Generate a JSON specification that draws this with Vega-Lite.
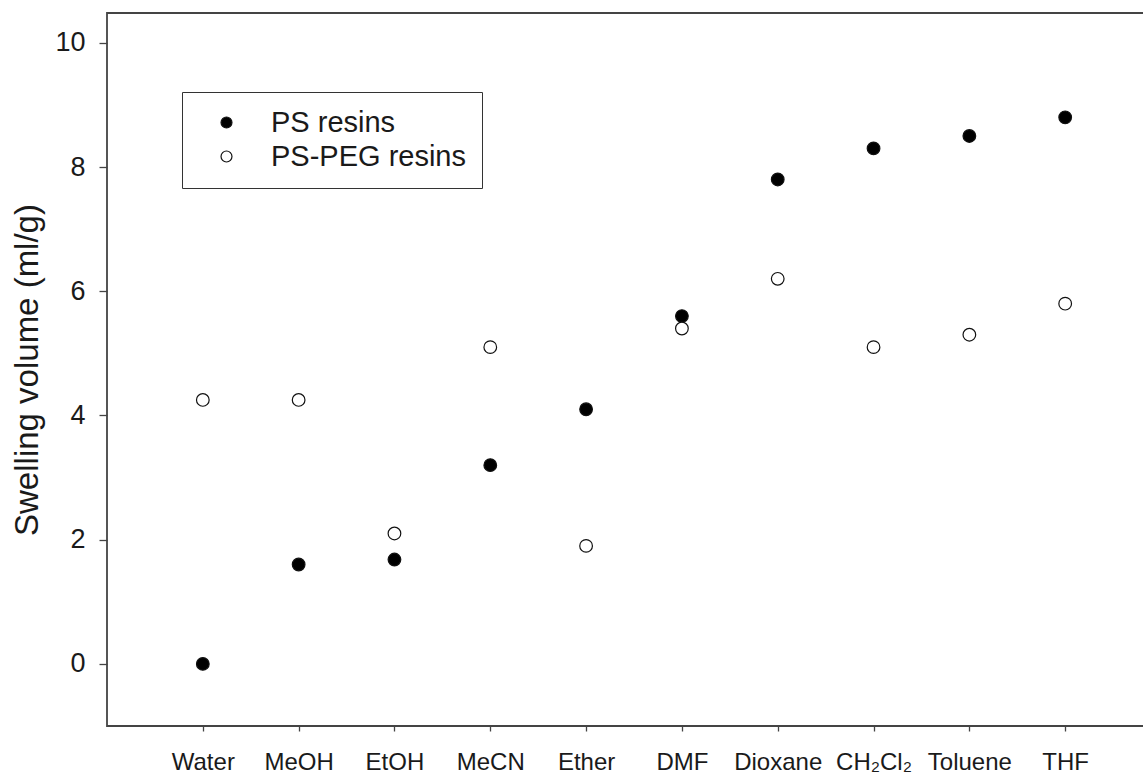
{
  "$schema": "https://vega.github.io/schema/vega-lite/v6.json",
  "autosize": "none",
  "padding": {"left": 107, "top": 13, "right": 0, "bottom": 51},
  "width": 1054,
  "height": 713,
  "background": "white",
  "config": {
    "font": "Liberation Sans",
    "view": {"stroke": "#444444", "strokeWidth": 1.8},
    "axis": {"grid": false, "domain": false, "tickColor": "#444444", "tickWidth": 1.3, "labelColor": "#1a1a1a", "titleColor": "#1a1a1a", "labelFont": "Liberation Sans", "titleFont": "Liberation Sans"}
  },
  "data": {
    "values": [
      {"solvent": "Water", "resin": "PS resins", "volume": 0},
      {"solvent": "MeOH", "resin": "PS resins", "volume": 1.6},
      {"solvent": "EtOH", "resin": "PS resins", "volume": 1.68},
      {"solvent": "MeCN", "resin": "PS resins", "volume": 3.2},
      {"solvent": "Ether", "resin": "PS resins", "volume": 4.1},
      {"solvent": "DMF", "resin": "PS resins", "volume": 5.6},
      {"solvent": "Dioxane", "resin": "PS resins", "volume": 7.8},
      {"solvent": "CH₂Cl₂", "resin": "PS resins", "volume": 8.3},
      {"solvent": "Toluene", "resin": "PS resins", "volume": 8.5},
      {"solvent": "THF", "resin": "PS resins", "volume": 8.8},
      {"solvent": "Water", "resin": "PS-PEG resins", "volume": 4.25},
      {"solvent": "MeOH", "resin": "PS-PEG resins", "volume": 4.25},
      {"solvent": "EtOH", "resin": "PS-PEG resins", "volume": 2.1},
      {"solvent": "MeCN", "resin": "PS-PEG resins", "volume": 5.1},
      {"solvent": "Ether", "resin": "PS-PEG resins", "volume": 1.9},
      {"solvent": "DMF", "resin": "PS-PEG resins", "volume": 5.4},
      {"solvent": "Dioxane", "resin": "PS-PEG resins", "volume": 6.2},
      {"solvent": "CH₂Cl₂", "resin": "PS-PEG resins", "volume": 5.1},
      {"solvent": "Toluene", "resin": "PS-PEG resins", "volume": 5.3},
      {"solvent": "THF", "resin": "PS-PEG resins", "volume": 5.8}
    ]
  },
  "mark": {"type": "point", "filled": true, "stroke": "#111", "strokeWidth": 1.2, "opacity": 1, "size": 160},
  "encoding": {
    "x": {
      "field": "solvent", "type": "nominal", "sort": null,
      "scale": {"type": "point", "padding": 1},
      "axis": {"title": null, "labelAngle": 0, "labelFontSize": 24, "tickSize": 5, "labelPadding": 19}
    },
    "y": {
      "field": "volume", "type": "quantitative",
      "scale": {"domain": [-1, 10.48], "nice": false, "zero": false},
      "axis": {"title": "Swelling volume (ml/g)", "titleFontSize": 33, "titleFontWeight": "normal", "titlePadding": 10, "values": [0, 2, 4, 6, 8, 10], "labelFontSize": 27, "tickSize": 8, "labelPadding": 14}
    },
    "fill": {
      "field": "resin", "type": "nominal",
      "scale": {"domain": ["PS resins", "PS-PEG resins"], "range": ["#000000", "#ffffff"]},
      "legend": {
        "title": null, "orient": "none", "legendX": 75, "legendY": 79,
        "strokeColor": "#333", "fillColor": "white", "padding": 16,
        "labelFontSize": 29, "labelColor": "#1a1a1a", "labelLimit": 400, "symbolSize": 120,
        "symbolStrokeColor": "#111", "symbolStrokeWidth": 1.2, "symbolType": "circle",
        "symbolOffset": 14, "rowPadding": 4, "labelOffset": 30, "offset": 0
      }
    }
  }
}
